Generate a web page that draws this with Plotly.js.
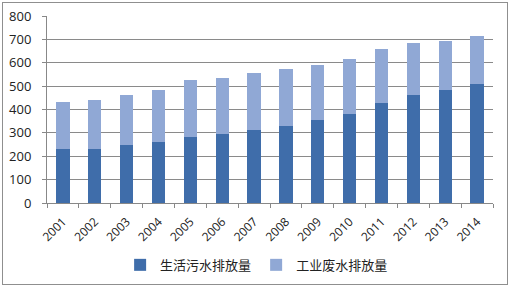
<!DOCTYPE html>
<html>
<head>
<meta charset="utf-8">
<script src="https://cdn.plot.ly/plotly-3.0.1.min.js"></script>
<style>
html,body{margin:0;padding:0;background:#fff;}
#wrap{position:absolute;left:2px;top:2px;width:506px;height:283px;border:1px solid #8f8f8f;box-sizing:border-box;}
#chart{width:504px;height:281px;}
</style>
</head>
<body>
<div id="wrap"><div id="chart"></div></div>
<script>
const years = ['2001','2002','2003','2004','2005','2006','2007','2008','2009','2010','2011','2012','2013','2014'];
const domestic = [230.2,232.3,247.6,261.3,281.4,296.6,310.2,330.0,354.8,379.8,427.9,462.7,485.1,510.3];
const industrial = [202.7,207.2,212.4,221.1,243.1,240.2,246.6,241.7,234.4,237.5,230.9,221.6,209.8,205.3];
const seriesNames = ['生活污水排放量','工业废水排放量'];
const yTicks = [0,100,200,300,400,500,600,700,800];

const fontFam = '"Open Sans","Noto Sans CJK SC",sans-serif';
const traces = [
  {type:'bar', name:seriesNames[0], x:years, y:domestic, marker:{color:'#3F6DAA'}},
  {type:'bar', name:seriesNames[1], x:years, y:industrial, marker:{color:'#90A8D5'}}
];
const layout = {
  width:504, height:281,
  margin:{l:44, r:14, t:13, b:81},
  barmode:'stack',
  bargap:0.58,
  paper_bgcolor:'#fff', plot_bgcolor:'#fff',
  font:{family:fontFam, size:12, color:'#222'},
  showlegend:true,
  legend:{orientation:'h', x:0.47, xanchor:'center', yref:'container', y:0.068, yanchor:'middle',
          font:{family:'"Noto Sans CJK SC",sans-serif', size:13, color:'#222'},
          itemwidth:30, traceorder:'normal'},
  xaxis:{type:'category', tickangle:-45, tickson:'boundaries', ticks:'outside', ticklen:4,
         tickcolor:'#888', showline:true, linecolor:'#888', linewidth:1, showgrid:false,
         tickfont:{size:12}, automargin:false, ticklabelstandoff:6},
  yaxis:{range:[0,800], tickvals:yTicks, ticks:'outside', ticklen:4, tickcolor:'#888',
         showline:true, linecolor:'#888', gridcolor:'#8a8a8a', gridwidth:1,
         zeroline:false, ticklabelstandoff:8, tickfont:{size:13}, automargin:false}
};
Plotly.newPlot('chart', traces, layout, {displayModeBar:false, staticPlot:true});
</script>
</body>
</html>
